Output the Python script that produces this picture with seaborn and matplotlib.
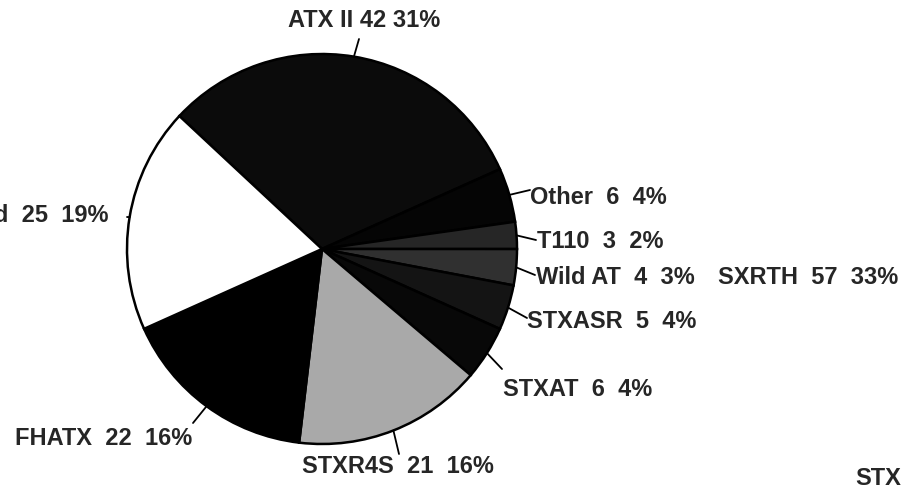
#!/usr/bin/env python3

import matplotlib

matplotlib.use("Agg")

import matplotlib.pyplot as plt
import numpy as np
import seaborn as sns

labels = ["ATX II", "Other", "T110", "Wild AT", "STXASR", "STXAT", "STXR4S", "FHATX", "Untreated"]
counts = [42, 6, 3, 4, 5, 6, 21, 22, 25]
percents = [31, 4, 2, 3, 4, 4, 16, 16, 19]
colors = ["#0b0b0b", "#050505", "#262626", "#303030", "#141414", "#080808", "#a9a9a9", "#000000", "#ffffff"]

# label layout in pixel coords: text x, text y, alignment, leader end x, leader end y
label_pos = [
    (364, 21, "center", 359, 39),
    (530, 198, "left", 530, 190),
    (537, 242, "left", 536, 240),
    (536, 277, "left", 535, 275),
    (527, 322, "left", 527, 318),
    (503, 390, "left", 502, 369),
    (302, 466, "left", 399, 454),
    (192, 438, "right", 193, 423),
    (108, 215, "right", 127, 217),
]

# pieces of neighbouring charts cut off by the scan
extra_texts = [("SXRTH  57  33%", 718, 277), ("STXR", 855, 478)]


def main():
    sns.set_style("white")
    plt.rcParams["font.family"] = ["Liberation Sans", "DejaVu Sans"]

    W, H = 902, 486
    fig = plt.figure(figsize=(W / 100, H / 100), dpi=100)
    ax = fig.add_axes([0, 0, 1, 1])

    cx, cy, r = 322, H - 249, 195
    wedges, _ = ax.pie(
        counts,
        colors=colors,
        startangle=137,
        counterclock=False,
        center=(cx, cy),
        radius=r,
        wedgeprops={"edgecolor": "black", "linewidth": 1.8},
        frame=True,
    )

    for i, w in enumerate(wedges):
        mid = np.deg2rad((w.theta1 + w.theta2) / 2)
        x0, y0 = cx + r * np.cos(mid), cy + r * np.sin(mid)
        tx, ty, ha, lx, ly = label_pos[i]
        ax.plot([x0, lx], [y0, H - ly], color="black", lw=1.3)
        text = f"{labels[i]}  {counts[i]}  {percents[i]}%"
        kw = {}
        if i == 0:
            text = f"{labels[i]} {counts[i]} {percents[i]}%"
            kw["family"] = ["Liberation Sans Narrow", "Liberation Sans"]
        ax.text(tx, H - ty, text, ha=ha, va="center", fontsize=17, fontweight="bold", **kw)

    for text, tx, ty in extra_texts:
        ax.text(tx, H - ty, text, ha="left", va="center", fontsize=17, fontweight="bold")

    ax.set_xlim(0, W)
    ax.set_ylim(0, H)
    ax.set_aspect("equal")
    ax.axis("off")

    plt.savefig("out.png", dpi=100)
    plt.close()


if __name__ == "__main__":
    main()
